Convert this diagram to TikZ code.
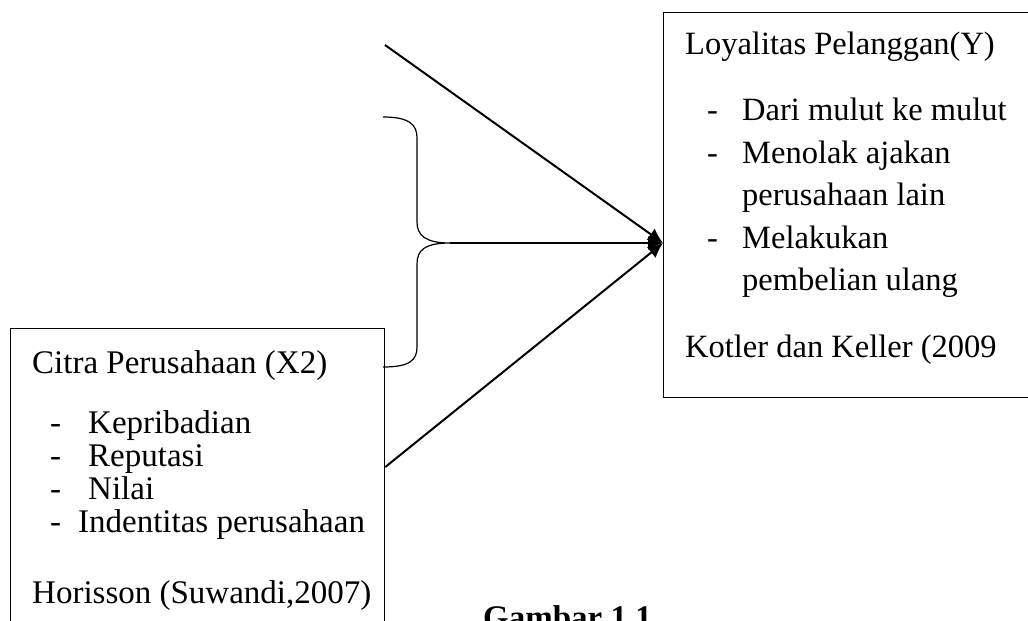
\documentclass[tikz,border=0pt]{standalone}
\usepackage{fontspec}
\setmainfont{Liberation Serif}
\usetikzlibrary{arrows.meta,calc}
\begin{document}
\begin{tikzpicture}[x=1pt,y=-1pt,
    kotak/.style={draw,line width=1.3pt,anchor=north west,inner sep=0pt},
    isi/.style={anchor=base west,align=left,inner sep=0pt},
    panah/.style={line width=2pt,-{Latex[length=15pt,width=14pt]}}]
    \useasboundingbox (0,0) rectangle (1028,621);
    \node[kotak,minimum width=380,minimum height=385] (loyal) at (663,12) {};
    \node[kotak,minimum width=374,minimum height=320] (citra) at (10,328) {};
    \node[isi,font=\fontsize{32.5}{42.5}\selectfont] (loyaltext) at (685,357)
        {Loyalitas Pelanggan(Y)\\[24pt]
         \hspace*{22pt}\makebox[35pt][l]{-}Dari mulut ke mulut\\
         \hspace*{22pt}\makebox[35pt][l]{-}Menolak ajakan\\
         \hspace*{57pt}perusahaan lain\\
         \hspace*{22pt}\makebox[35pt][l]{-}Melakukan\\
         \hspace*{57pt}pembelian ulang\\[24pt]
         Kotler dan Keller (2009};
    \node[isi,font=\fontsize{33}{33}\selectfont] (citratext) at (32,603)
        {Citra Perusahaan (X2)\\[27pt]
         \hspace*{18pt}\makebox[38pt][l]{-}Kepribadian\\
         \hspace*{18pt}\makebox[38pt][l]{-}Reputasi\\
         \hspace*{18pt}\makebox[38pt][l]{-}Nilai\\
         \hspace*{18pt}\makebox[28pt][l]{-}Indentitas perusahaan\\[38pt]
         Horisson (Suwandi,2007)};
    \node[anchor=base west,inner sep=0pt,font=\fontsize{33}{38}\selectfont\bfseries] (judul) at (483,628) {Gambar 1.1};
    \coordinate (tip) at (663,243);
    \coordinate (awal) at (385,45);
    \coordinate (ujung) at (450,243);
    \coordinate (keluar) at ($(citra.north east)+(0,139)$);
    \draw[line width=1.2pt] (383,117) .. controls (410,117) and (417,125) .. (417,138) -- (417,222)
        .. controls (417,235) and (425,243) .. (ujung)
        .. controls (425,243) and (417,250) .. (417,264) -- (417,347)
        .. controls (417,360) and (410,367) .. (383,367);
    \draw[panah] (awal) -- (tip);
    \draw[panah] (ujung) -- (tip);
    \draw[panah] (keluar) -- (tip);
\end{tikzpicture}
\end{document}
